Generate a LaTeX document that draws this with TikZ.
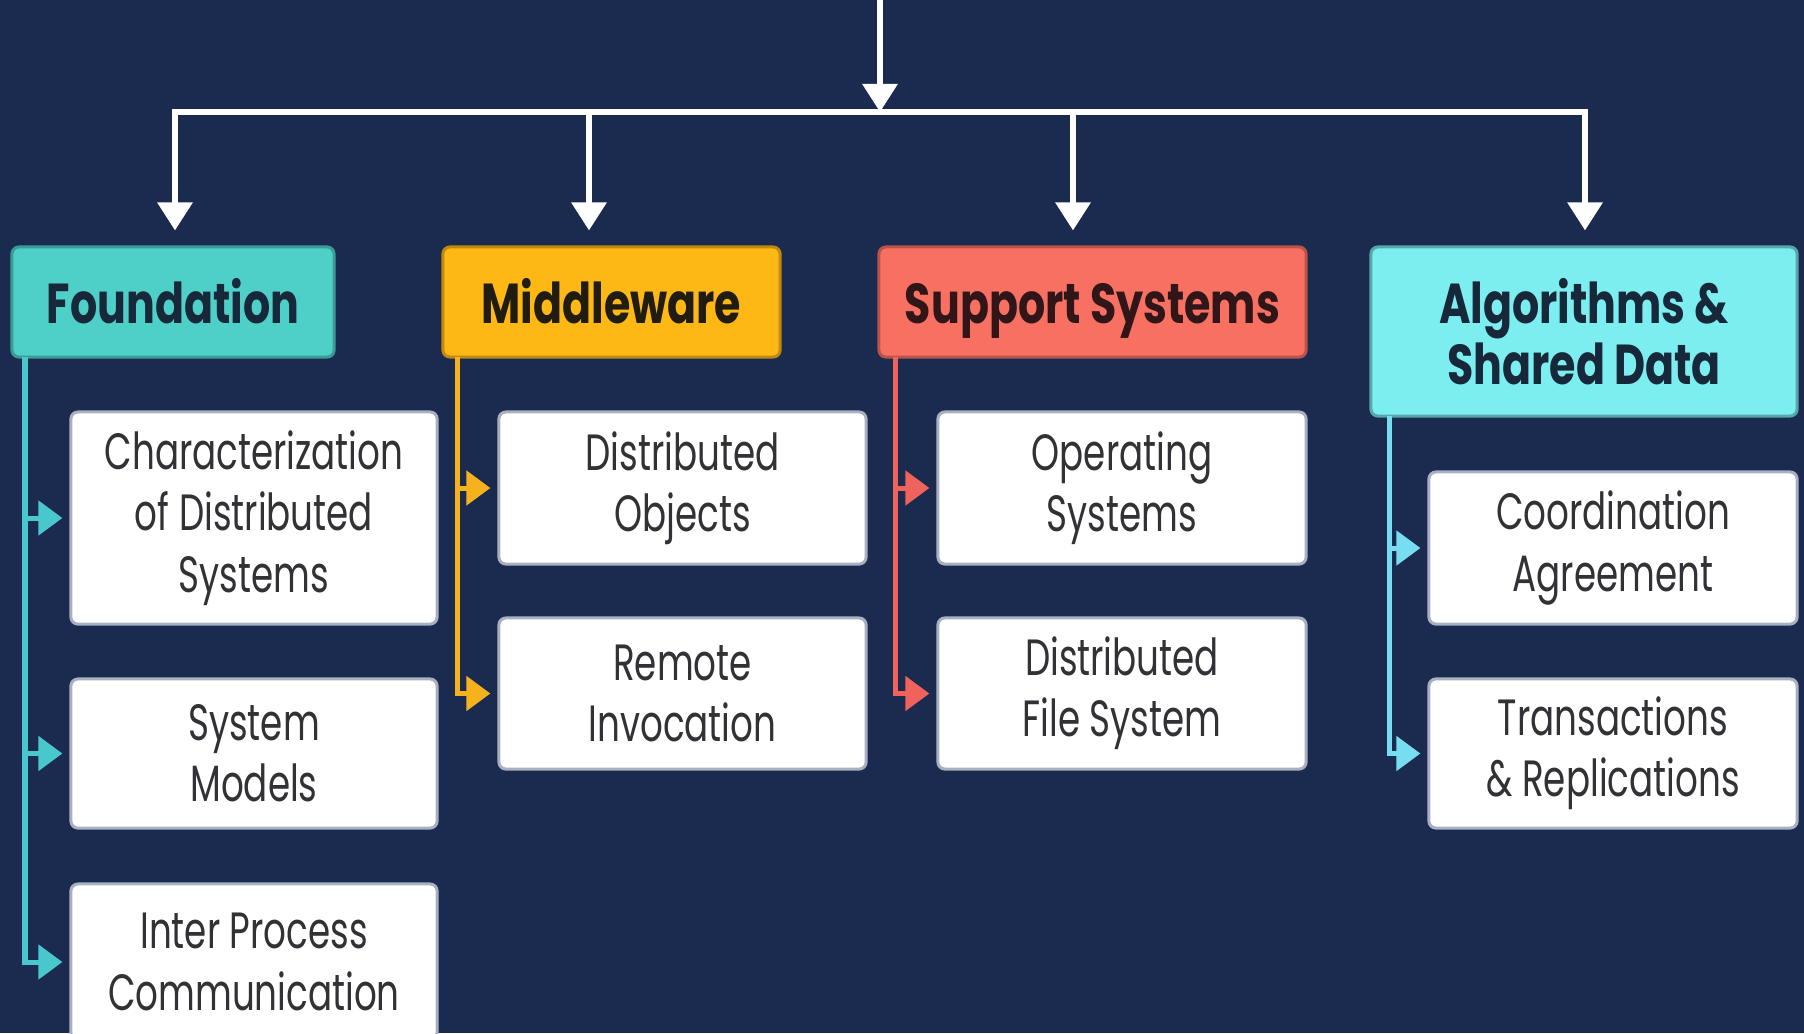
\documentclass[tikz,border=0pt]{standalone}
\usepackage{fontspec}
\setmainfont{Poppins}[FakeStretch=0.70]
\newfontfamily\headfont{Poppins}[FakeStretch=0.76]
\usetikzlibrary{arrows.meta}
\definecolor{bg}{RGB}{27,42,79}
\definecolor{fcol}{RGB}{78,208,200}
\definecolor{mcol}{RGB}{253,184,22}
\definecolor{scol}{RGB}{248,112,98}
\definecolor{acol}{RGB}{124,238,240}
\definecolor{fline}{RGB}{72,200,205}
\definecolor{mline}{RGB}{245,178,28}
\definecolor{sline}{RGB}{240,98,92}
\definecolor{aline}{RGB}{118,222,240}
\definecolor{boxedge}{RGB}{168,176,194}
\definecolor{bodytext}{RGB}{50,50,54}
\definecolor{headtext}{RGB}{22,40,58}
\definecolor{mtext}{RGB}{32,28,18}
\definecolor{stext}{RGB}{48,22,24}
\begin{document}
\begin{tikzpicture}[x=0.01cm,y=-0.01cm,
  childbox/.style={draw=boxedge, line width=0.03cm, fill=white, rounded corners=0.07cm,
    minimum width=3.66cm, align=center, text=bodytext, inner sep=0pt,
    font=\fontsize{14.5}{17.4}\selectfont},
  headbox/.style={rounded corners=0.07cm, align=center, inner sep=0pt, line width=0.03cm,
    font=\headfont\bfseries\fontsize{16}{17.5}\selectfont},
  oneline/.style={text height=12pt, text depth=0pt},
  wline/.style={white, line width=0.06cm},
  warrow/.style={wline, -{Triangle[width=0.34cm,length=0.28cm]}},
  carrow/.style={line width=0.05cm, -{Triangle[width=0.34cm,length=0.24cm]}, shorten >=0.07cm}
]
\useasboundingbox (0,0) rectangle (1804,1033);
\fill[bg] (0,0) rectangle (1804,1033);
\clip (0,0) rectangle (1804,1033);

% headers
\node[headbox, oneline, fill=fcol, draw=fcol!75!black, text=headtext, minimum width=3.22cm, minimum height=1.10cm] (F) at (173,302) {Foundation};
\node[headbox, oneline, fill=mcol, draw=mcol!75!black, text=mtext, minimum width=3.37cm, minimum height=1.10cm] (M) at (611.5,302) {Middleware};
\node[headbox, oneline, fill=scol, draw=scol!75!black, text=stext, minimum width=4.27cm, minimum height=1.10cm] (S) at (1092.5,302) {Support Systems};
\node[headbox, fill=acol, draw=acol!70!black, text=headtext, minimum width=4.26cm, minimum height=1.69cm] (A) at (1584,331.5) {Algorithms \&\\Shared Data};

% children
\node[childbox, minimum height=2.12cm] (F1) at (254,518) {Characterization\\of Distributed\\Systems};
\node[childbox, minimum height=1.49cm] (F2) at (254,753.5) {System\\Models};
\node[childbox, minimum height=1.56cm] (F3) at (254,962) {Inter Process\\Communication};
\node[childbox, minimum width=3.67cm, minimum height=1.52cm] (M1) at (682.5,488) {Distributed\\Objects};
\node[childbox, minimum width=3.67cm, minimum height=1.51cm] (M2) at (682.5,693.5) {Remote\\Invocation};
\node[childbox, minimum width=3.68cm, minimum height=1.52cm] (S1) at (1122,488) {Operating\\Systems};
\node[childbox, minimum width=3.68cm, minimum height=1.51cm] (S2) at (1122,693.5) {Distributed\\File System};
\node[childbox, minimum width=3.68cm, minimum height=1.52cm] (A1) at (1613,548) {Coordination\\Agreement};
\node[childbox, minimum width=3.68cm, minimum height=1.49cm] (A2) at (1613,753.5) {Transactions\\\& Replications};

% top distribution
\coordinate (top) at (880,0);
\coordinate (hub) at (880,112);
\coordinate (barL) at (175,112);
\coordinate (barR) at (1585,112);
\coordinate (dM) at (589,112);
\coordinate (dS) at (1073,112);
\draw[warrow] (top) -- (hub);
\draw[wline, line cap=rect] (barL) -- (barR);
\draw[warrow, shorten >=0.15cm] (barL) -- (barL |- F.north);
\draw[warrow, shorten >=0.15cm] (dM) -- (dM |- M.north);
\draw[warrow, shorten >=0.15cm] (dS) -- (dS |- S.north);
\draw[warrow, shorten >=0.15cm] (barR) -- (barR |- A.north);

% foundation branch
\coordinate (fs) at (25,357);
\draw[fline, carrow] (fs) |- (F3.west);
\draw[fline, carrow] (fs |- F1.west) -- (F1.west);
\draw[fline, carrow] (fs |- F2.west) -- (F2.west);

% middleware branch
\coordinate (ms) at (457,357);
\draw[mline, carrow] (ms) |- (M2.west);
\draw[mline, carrow] (ms |- M1.west) -- (M1.west);

% support branch
\coordinate (ss) at (895,357);
\draw[sline, carrow] (ss) |- (S2.west);
\draw[sline, carrow] (ss |- S1.west) -- (S1.west);

% algorithms branch
\coordinate (as) at (1389,416);
\draw[aline, carrow] (as) |- (A2.west);
\draw[aline, carrow] (as |- A1.west) -- (A1.west);
\end{tikzpicture}
\end{document}
